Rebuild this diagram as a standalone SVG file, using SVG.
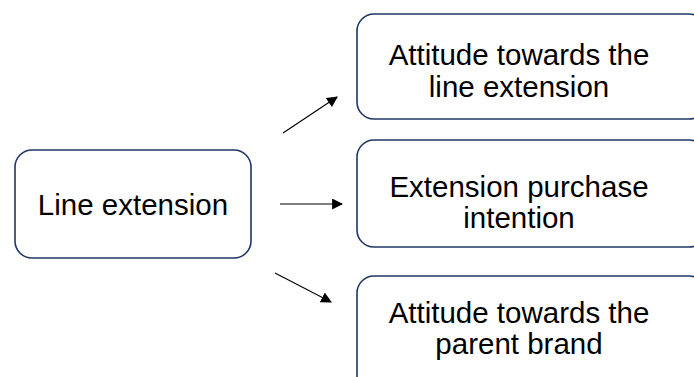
<svg xmlns="http://www.w3.org/2000/svg" width="694" height="377" viewBox="0 0 694 377">
  <style>
    .box { fill: #ffffff; stroke: #203864; stroke-width: 1.6; }
    .lbl { font-family: "Liberation Sans", Arial, sans-serif; font-size: 29.5px; fill: #000000; text-anchor: middle; }
    .edge { stroke: #000000; stroke-width: 1.1; fill: none; marker-end: url(#arrow); }
  </style>
  <defs>
    <marker id="arrow" viewBox="0 0 10 10" refX="9" refY="5" markerWidth="11" markerHeight="11" markerUnits="userSpaceOnUse" orient="auto">
      <path d="M0,0 L10,5 L0,10 Z" fill="#000000"/>
    </marker>
  </defs>
  <rect width="694" height="377" fill="#ffffff"/>

  <g id="line-extension">
    <rect class="box" x="15" y="150" width="236" height="108" rx="17" ry="17"/>
    <text class="lbl" x="133" y="215">Line extension</text>
  </g>

  <g id="attitude-line-extension">
    <rect class="box" x="357" y="14" width="349" height="105" rx="17" ry="17"/>
    <text class="lbl" x="519" y="65">Attitude towards the</text>
    <text class="lbl" x="519" y="97">line extension</text>
  </g>

  <g id="purchase-intention">
    <rect class="box" x="357" y="140" width="349" height="107" rx="17" ry="17"/>
    <text class="lbl" x="519" y="197">Extension purchase</text>
    <text class="lbl" x="519" y="228">intention</text>
  </g>

  <g id="attitude-parent-brand">
    <rect class="box" x="357" y="276" width="349" height="120" rx="17" ry="17"/>
    <text class="lbl" x="519" y="323">Attitude towards the</text>
    <text class="lbl" x="519" y="354">parent brand</text>
  </g>

  <g id="connectors">
    <line class="edge" x1="283" y1="133" x2="337" y2="97"/>
    <line class="edge" x1="280" y1="204" x2="342" y2="204"/>
    <line class="edge" x1="275" y1="273" x2="331" y2="302"/>
  </g>
</svg>
